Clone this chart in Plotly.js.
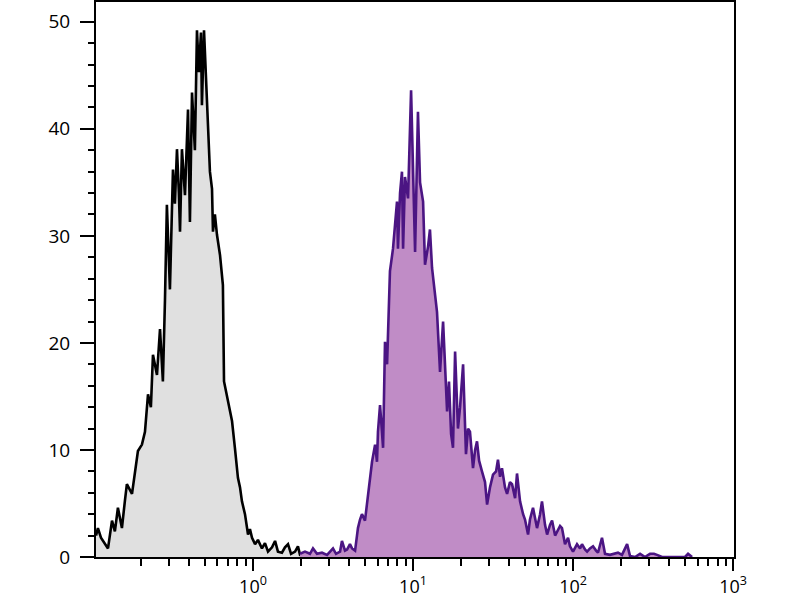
<!DOCTYPE html>
<html>
<head>
<meta charset="utf-8">
<script src="https://cdn.plot.ly/plotly-3.0.1.min.js"></script>
<style>
  body { margin: 0; background: #fff; }
  #plot { width: 800px; height: 600px; }
</style>
</head>
<body>
<div id="plot"></div>
<script>
// control (gray) histogram: log10 intensity vs count
let grayLogX = [-0.981, -0.969, -0.950, -0.931, -0.906, -0.881, -0.863, -0.844, -0.819, -0.800,
    -0.788, -0.756, -0.738, -0.719, -0.694, -0.675, -0.656, -0.638, -0.625, -0.600,
    -0.581, -0.563, -0.550, -0.538, -0.519, -0.500, -0.488, -0.475, -0.463, -0.456,
    -0.444, -0.425, -0.406, -0.394, -0.381, -0.363, -0.350, -0.338, -0.325, -0.319,
    -0.306, -0.294, -0.288, -0.281, -0.269, -0.256, -0.250, -0.238, -0.225, -0.206,
    -0.194, -0.188, -0.181, -0.169, -0.156, -0.144, -0.131, -0.113, -0.094, -0.081,
    -0.069, -0.050, -0.031, -0.019, -0.006, 0.013, 0.031, 0.056, 0.075, 0.094,
    0.119, 0.138, 0.156, 0.181, 0.200, 0.219, 0.238, 0.263, 0.281, 0.294, 0.313]
let grayCount = [2.0, 2.7, 1.8, 1.4, 0.8, 3.4, 2.4, 4.6, 2.7, 5.3,
    6.8, 5.9, 8.0, 9.9, 10.5, 11.7, 15.2, 14.0, 18.9, 17.0,
    21.3, 16.4, 24.0, 32.9, 25.0, 36.2, 33.0, 38.1, 34.0, 30.4,
    38.1, 33.8, 41.8, 31.3, 43.4, 38.0, 49.2, 45.3, 49.0, 42.2,
    49.2, 45.0, 43.7, 40.6, 36.0, 34.4, 30.4, 32.0, 30.1, 28.2,
    26.0, 25.4, 16.4, 15.5, 14.5, 13.8, 12.7, 10.2, 7.4, 6.5,
    5.2, 4.0, 2.1, 2.6, 1.8, 1.2, 1.6, 0.8, 1.3, 0.5,
    0.9, 1.5, 0.5, 0.4, 0.9, 1.2, 0.3, 0.5, 1.0, 0.2, 0]

// stained (purple) histogram
let purpleLogX = [0.294, 0.325, 0.356, 0.375, 0.400, 0.431, 0.463, 0.481, 0.500, 0.519,
    0.544, 0.556, 0.575, 0.588, 0.606, 0.619, 0.638, 0.650, 0.656, 0.669,
    0.681, 0.700, 0.719, 0.731, 0.744, 0.763, 0.775, 0.781, 0.794, 0.813,
    0.825, 0.838, 0.850, 0.856, 0.875, 0.888, 0.900, 0.906, 0.919, 0.931,
    0.938, 0.950, 0.969, 0.988, 1.000, 1.013, 1.031, 1.044, 1.063, 1.075,
    1.094, 1.106, 1.119, 1.138, 1.150, 1.169, 1.188, 1.200, 1.213, 1.225,
    1.238, 1.250, 1.263, 1.281, 1.294, 1.313, 1.331, 1.344, 1.356, 1.375,
    1.388, 1.400, 1.413, 1.431, 1.450, 1.463, 1.481, 1.500, 1.519, 1.531,
    1.544, 1.556, 1.575, 1.588, 1.606, 1.619, 1.638, 1.650, 1.669, 1.688,
    1.700, 1.719, 1.731, 1.750, 1.763, 1.775, 1.794, 1.806, 1.825, 1.838,
    1.856, 1.869, 1.888, 1.900, 1.919, 1.931, 1.950, 1.969, 1.981, 2.000,
    2.025, 2.044, 2.056, 2.075, 2.088, 2.106, 2.125, 2.144, 2.156, 2.181,
    2.200, 2.231, 2.250, 2.281, 2.306, 2.338, 2.356, 2.388, 2.419, 2.450,
    2.481, 2.506, 2.525, 2.556, 2.700, 2.719, 2.744]
let purpleCount = [0.3, 0.5, 0.3, 0.8, 0.3, 0.4, 0.2, 0.5, 0.8, 0.3,
    0.5, 1.5, 0.6, 0.7, 1.2, 0.8, 0.6, 2.0, 2.7, 3.5,
    4.0, 3.4, 5.9, 7.0, 8.9, 10.5, 8.9, 11.7, 14.2, 10.2,
    20.1, 18.0, 23.9, 26.7, 28.8, 31.0, 33.2, 28.8, 34.0, 36.0,
    28.8, 35.5, 33.5, 43.6, 35.0, 28.5, 41.6, 35.0, 33.2, 27.3,
    29.0, 30.6, 27.0, 24.5, 22.9, 17.3, 22.0, 18.0, 13.6, 16.4,
    11.5, 10.2, 19.2, 12.0, 14.0, 18.0, 9.6, 12.0, 11.7, 8.3,
    10.0, 10.8, 9.0, 8.0, 7.0, 4.9, 6.5, 7.7, 8.0, 9.1,
    7.5, 8.3, 6.5, 5.9, 7.0, 6.8, 5.5, 7.8, 5.2, 4.0,
    3.5, 2.1, 3.5, 4.6, 3.5, 2.7, 4.0, 5.2, 3.0, 2.1,
    3.0, 3.4, 2.0, 2.4, 2.9, 2.7, 1.2, 1.8, 1.0, 0.5,
    1.2, 0.8, 1.2, 0.7, 0.5, 0.8, 1.0, 0.6, 0.4, 1.8,
    0.3, 0.2, 0.3, 0.4, 0.2, 1.2, 0.1, 0, 0.3, 0,
    0.3, 0.3, 0.2, 0, 0, 0.3, 0]

let majorTicks = [1, 10, 100, 1000]
let majorLabels = ['10<sup>0</sup>', '10<sup>1</sup>', '10<sup>2</sup>', '10<sup>3</sup>']

// minor decade ticks 2..9 for each decade on screen
let minorTicks = []
for (let d of [0.1, 1, 10, 100]) {
    for (let k = 2; k <= 9; k++) minorTicks.push(k * d)
}

function toLinear(arr) {
    return arr.map(function (v) { return Math.pow(10, v) })
}

let traces = [
    {
        x: toLinear(grayLogX), y: grayCount, type: 'scatter', mode: 'lines',
        fill: 'tozeroy', fillcolor: '#e0e0e0',
        line: { color: '#000000', width: 2.6 },
        hoverinfo: 'skip'
    },
    {
        x: toLinear(purpleLogX), y: purpleCount, type: 'scatter', mode: 'lines',
        fill: 'tozeroy', fillcolor: '#c08cc6',
        line: { color: '#4b1583', width: 2.6 },
        hoverinfo: 'skip'
    }
]

let xFont = { family: 'Open Sans, Noto Sans, sans-serif', size: 18, color: '#000' }
let yFont = { family: 'Open Sans, Noto Sans, sans-serif', size: 19, color: '#000' }

let layout = {
    width: 800, height: 600,
    margin: { l: 96, r: 66, t: 2, b: 43, pad: 0 },
    paper_bgcolor: '#fff', plot_bgcolor: '#fff',
    showlegend: false,
    xaxis: {
        type: 'log', range: [-0.981, 3.006],
        showgrid: false, zeroline: false,
        showline: true, linecolor: '#000', linewidth: 2, mirror: true,
        tickmode: 'array', tickvals: majorTicks, ticktext: majorLabels,
        ticks: 'outside', ticklen: 12, tickwidth: 2, tickcolor: '#000',
        tickfont: xFont, ticklabelstandoff: 0,
        minor: { tickmode: 'array', tickvals: minorTicks, ticks: 'outside', ticklen: 7, tickwidth: 2, tickcolor: '#000', showgrid: false }
    },
    yaxis: {
        range: [0, 51.85],
        showgrid: false, zeroline: false,
        showline: true, linecolor: '#000', linewidth: 2, mirror: true,
        tickmode: 'linear', tick0: 0, dtick: 10,
        ticks: 'outside', ticklen: 14, tickwidth: 2, tickcolor: '#000',
        tickfont: yFont, ticklabelstandoff: 6,
        minor: { tickmode: 'linear', dtick: 2, ticks: 'outside', ticklen: 6, tickwidth: 2, tickcolor: '#000', showgrid: false }
    }
}

Plotly.newPlot('plot', traces, layout, { displayModeBar: false, staticPlot: true })
</script>
</body>
</html>
